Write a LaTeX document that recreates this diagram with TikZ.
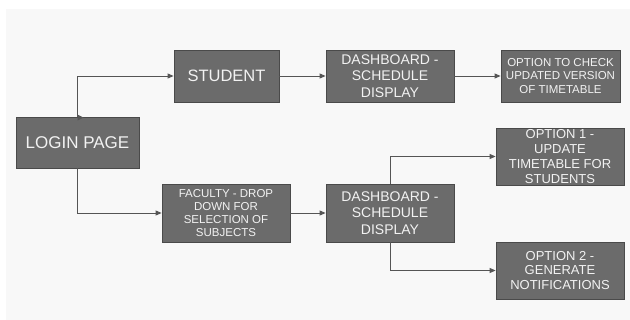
\documentclass[tikz,border=0pt]{standalone}
\usepackage{fontspec}
\setmainfont{Liberation Sans}
\usetikzlibrary{arrows.meta}
\definecolor{bgc}{HTML}{F8F8F8}
\definecolor{boxc}{HTML}{6B6B6B}
\definecolor{edgec}{HTML}{4A4A4A}
\definecolor{linec}{HTML}{555555}
\definecolor{txtc}{HTML}{F2F2F2}
\tikzset{
  box/.style={draw=edgec, line width=0.8pt, fill=boxc, text=txtc, align=center, inner sep=0pt, anchor=center},
  conn/.style={draw=linec, line width=0.9pt, -{Triangle[length=6pt,width=5pt]}},
}
\begin{document}
\begin{tikzpicture}[x=1pt,y=-1pt]
\useasboundingbox (0,0) rectangle (630,320);
\fill[white] (0,0) rectangle (630,320);
\fill[bgc] (6,9) rectangle (630,320);

\node[box, minimum width=123pt, minimum height=51pt, font=\fontsize{17}{20}\selectfont] (login) at (77.5,142.5) {LOGIN PAGE};
\node[box, minimum width=105pt, minimum height=52pt, font=\fontsize{16.5}{20}\selectfont] (student) at (226.5,76) {STUDENT};
\node[box, minimum width=128pt, minimum height=52pt, font=\fontsize{14}{16.7}\selectfont] (dash1) at (390,76) {DASHBOARD -\\SCHEDULE\\DISPLAY};
\node[box, minimum width=119pt, minimum height=52pt, font=\fontsize{11.5}{13.3}\selectfont] (opt) at (560.5,76) {OPTION TO CHECK\\UPDATED VERSION\\OF TIMETABLE};
\node[box, minimum width=128pt, minimum height=58pt, font=\fontsize{11.5}{13.3}\selectfont] (fac) at (226,213) {FACULTY - DROP\\DOWN FOR\\SELECTION OF\\SUBJECTS};
\node[box, minimum width=128pt, minimum height=58pt, font=\fontsize{14}{16.7}\selectfont] (dash2) at (390,213) {DASHBOARD -\\SCHEDULE\\DISPLAY};
\node[box, minimum width=128pt, minimum height=57pt, font=\fontsize{13}{15}\selectfont] (opt1) at (560,156.5) {OPTION 1 -\\UPDATE\\TIMETABLE FOR\\STUDENTS};
\node[box, minimum width=128pt, minimum height=57pt, font=\fontsize{13}{14.7}\selectfont] (opt2) at (560,270.5) {OPTION 2 -\\GENERATE\\NOTIFICATIONS};

\draw[conn] (login.north) |- (student.west);
\fill[linec] ([yshift=-4pt]login.north) -- ([yshift=2pt]login.north) -- ([xshift=6pt,yshift=-1pt]login.north) -- cycle;
\draw[conn] (login.south) |- (fac.west);
\draw[conn] (student.east) -- (dash1.west);
\draw[conn] (dash1.east) -- (opt.west);
\draw[conn] (fac.east) -- (dash2.west);
\draw[conn] (dash2.north) |- (opt1.west);
\draw[conn] (dash2.south) |- (opt2.west);
\end{tikzpicture}
\end{document}
